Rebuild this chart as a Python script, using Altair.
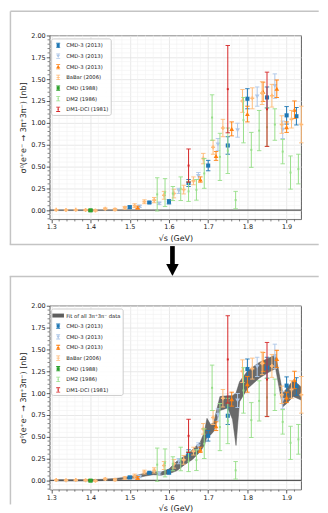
import altair as alt
import pandas as pd

FONT = "DejaVu Sans"

# ---------------- data ----------------
cmd3a_x = [1.50, 1.55, 1.60, 1.65, 1.70, 1.75, 1.80, 1.85, 1.90, 1.925]
cmd3a_y = [0.034, 0.087, 0.095, 0.31, 0.51, 0.74, 1.275, 1.29, 1.085, 1.075]
cmd3a_e = [0.012, 0.008, 0.025, 0.04, 0.06, 0.10, 0.115, 0.12, 0.10, 0.10]

cmd3b_x = [1.525, 1.575, 1.625, 1.675, 1.725, 1.775, 1.825, 1.870, 1.890]
cmd3b_y = [0.04, 0.075, 0.22, 0.39, 0.75, 0.915, 1.30, 1.42, 0.92]
cmd3b_e = [0.01, 0.012, 0.03, 0.04, 0.07, 0.08, 0.11, 0.14, 0.10]

cmd3c_x = [1.52, 1.68, 1.72, 1.76, 1.80, 1.84, 1.875, 1.90, 1.92]
cmd3c_y = [0.03, 0.35, 0.62, 0.93, 1.10, 1.355, 1.39, 0.95, 1.15]
cmd3c_e = [0.015, 0.03, 0.05, 0.08, 0.09, 0.11, 0.10, 0.06, 0.10]

babar_x = [1.3125, 1.3375, 1.3625, 1.3875, 1.4125, 1.4375, 1.4625, 1.4875, 1.5125,
           1.5375, 1.5625, 1.5875, 1.6125, 1.6375, 1.6625, 1.6875, 1.7125, 1.7375,
           1.7875, 1.8125, 1.8375, 1.8625, 1.8875, 1.9125, 1.9375]
babar_y = [0.003, 0.002, 0.003, 0.002, -0.004, 0.015, 0.008, 0.027, 0.05,
           0.095, 0.114, 0.17, 0.19, 0.235, 0.335, 0.59, 0.72, 0.94,
           1.25, 1.28, 1.34, 1.31, 0.98, 1.04, 0.98]
babar_e = [0.005, 0.005, 0.005, 0.006, 0.008, 0.01, 0.012, 0.015, 0.022,
           0.022, 0.03, 0.045, 0.05, 0.05, 0.045, 0.06, 0.08, 0.10,
           0.13, 0.12, 0.13, 0.13, 0.10, 0.10, 0.21]

cmd88_x = [1.40]
cmd88_y = [-0.003]
cmd88_e = [0.012]

dm2_x = [1.57, 1.59, 1.61, 1.63, 1.65, 1.67, 1.69, 1.71, 1.73, 1.75,
         1.77, 1.79, 1.81, 1.83, 1.85, 1.87, 1.89, 1.91, 1.93]
dm2_y = [0.18, 0.20, 0.19, 0.245, 0.215, 0.232, 0.42, 1.06, 0.61, 0.68,
         0.115, 1.03, 0.69, 0.91, 0.95, 0.98, 0.67, 0.43, 0.47]
dm2_e = [0.19, 0.16, 0.08, 0.135, 0.115, 0.118, 0.17, 0.26, 0.27, 0.26,
         0.10, 0.26, 0.20, 0.23, 0.22, 0.18, 0.14, 0.19, 0.17]

dm1_x = [1.65, 1.75, 1.85]
dm1_y = [0.51, 1.385, 1.155]
dm1_e = [0.19, 0.50, 0.425]

band_x = [1.31, 1.35, 1.40, 1.43, 1.46, 1.49, 1.52, 1.54, 1.56, 1.58, 1.60, 1.62,
          1.64, 1.66, 1.68, 1.69, 1.697, 1.706, 1.714, 1.73, 1.75, 1.762, 1.771,
          1.78, 1.80, 1.83, 1.855, 1.872, 1.89, 1.90, 1.917, 1.937]
band_lo = [-0.006, -0.006, -0.006, -0.002, 0.004, 0.015, 0.03, 0.05, 0.065, 0.06, 0.075, 0.11,
           0.18, 0.24, 0.33, 0.40, 0.50, 0.52, 0.56, 0.80, 0.83, 0.70, 0.40,
           0.90, 1.05, 1.17, 1.24, 1.28, 0.84, 0.88, 0.96, 0.92]
band_hi = [0.008, 0.008, 0.008, 0.012, 0.02, 0.035, 0.06, 0.085, 0.10, 0.095, 0.13, 0.22,
           0.28, 0.35, 0.44, 0.55, 0.71, 0.64, 0.66, 0.96, 0.97, 0.97, 1.00,
           1.13, 1.25, 1.35, 1.40, 1.44, 1.00, 1.05, 1.15, 1.07]

series_ids = ["a", "b", "c", "d", "e", "f", "g"]
series_names = ["CMD-3 (2013)", "CMD-3 (2013)", "CMD-3 (2013)", "BaBar (2006)",
                "CMD (1988)", "DM2 (1986)", "DM1-DCI (1981)"]
series_colors = ["#1f77b4", "#aec7e8", "#ff7f0e", "#ffbb78", "#2ca02c", "#98df8a", "#d62728"]
series_markers = ["square", "triangle-down", "triangle-up", "cross", "square", "square", "square"]
series_msize = [17, 22, 22, 16, 17, 4, 4]
series_glyph = ["square", "tdown", "tup", "cross", "square", "dot", "dot"]
series_x = [cmd3a_x, cmd3b_x, cmd3c_x, babar_x, cmd88_x, dm2_x, dm1_x]
series_y = [cmd3a_y, cmd3b_y, cmd3c_y, babar_y, cmd88_y, dm2_y, dm1_y]
series_e = [cmd3a_e, cmd3b_e, cmd3c_e, babar_e, cmd88_e, dm2_e, dm1_e]

fit_name = "Fit of all 3π⁺3π⁻ data"
fit_color = "#5e5e5e"

x_ticks = [1.3, 1.4, 1.5, 1.6, 1.7, 1.8, 1.9]
y_ticks = [0.0, 0.25, 0.5, 0.75, 1.0, 1.25, 1.5, 1.75, 2.0]
x_minor = [round(1.30 + 0.02 * i, 2) for i in range(32)]
x_minor = [v for v in x_minor if round(v * 10, 6) != round(v * 10)]
y_minor = [round(-0.10 + 0.05 * i, 2) for i in range(42)]
y_minor = [v for v in y_minor if abs(v * 4 - round(v * 4)) > 1e-6]

XDOM = [1.296, 1.937]
YDOM = [-0.105, 2.0]
W, H = 253, 185

xaxis = alt.Axis(values=x_ticks, format=".1f", title="√s (GeV)", titleY=19.5,
                 titleBaseline="middle", labelPadding=1.2)
yaxis = alt.Axis(values=y_ticks, format=".2f", title="σ⁰(e⁺e⁻ → 3π⁺3π⁻) [nb]",
                 titleX=-26.6, titleY=H / 2, titleBaseline="middle", labelPadding=1.1)


def X(field):
    return alt.X(f"{field}:Q", scale=alt.Scale(domain=XDOM, nice=False, zero=False), axis=xaxis)


def Y(field):
    return alt.Y(f"{field}:Q", scale=alt.Scale(domain=YDOM, nice=False, zero=False), axis=yaxis)


# legend glyph paths (errorbar + marker)
BAR = "M-0.08,-0.48H0.08V0.48H-0.08Z"
CAPS = "M-0.36,-0.48H0.36V-0.33H-0.36Z M-0.36,0.33H0.36V0.48H-0.36Z"
MARK = {
    "square": "M-0.28,-0.28H0.28V0.28H-0.28Z",
    "tdown": "M-0.34,-0.24H0.34L0,0.34Z",
    "tup": "M-0.34,0.24L0,-0.34L0.34,0.24Z",
    "cross": "M-0.3,-0.07H0.3V0.07H-0.3Z M-0.07,-0.3H0.07V0.3H-0.07Z",
    "dot": "M-0.12,-0.12H0.12V0.12H-0.12Z",
}
FIT_PATCH = "M-1.06,-0.36H1.06V0.36H-1.06Z"

one = pd.DataFrame({"k": [0]})
FRAME = "#c4c4c4"


def hline(x1, x2, y, color=FRAME, w=1.5):
    return alt.Chart(one).mark_rule(color=color, strokeWidth=w).encode(
        x=alt.value(x1), x2=alt.value(x2), y=alt.value(y))


def vline(x, y1, y2, color=FRAME, w=1.5):
    return alt.Chart(one).mark_rule(color=color, strokeWidth=w).encode(
        x=alt.value(x), y=alt.value(y1), y2=alt.value(y2))


def panel(with_fit, decorations):
    layers = []
    # minor grid
    layers.append(alt.Chart(pd.DataFrame({"x": x_minor})).mark_rule(
        color="#f1f1f1", strokeWidth=0.6).encode(x=X("x")))
    layers.append(alt.Chart(pd.DataFrame({"y": y_minor})).mark_rule(
        color="#f1f1f1", strokeWidth=0.6).encode(y=Y("y")))
    if with_fit:
        bdf = pd.DataFrame({"x": band_x, "lo": band_lo, "hi": band_hi})
        layers.append(alt.Chart(bdf).mark_area(
            color=fit_color, opacity=0.92, stroke="#4a4a4a", strokeWidth=0.5).encode(
            x=X("x"), y=Y("lo"), y2="hi:Q"))
    # zero line
    layers.append(alt.Chart(pd.DataFrame({"y": [0.0]})).mark_rule(
        color="#555555", strokeWidth=1.3).encode(y=Y("y")))
    # data series
    for i in range(len(series_ids)):
        df = pd.DataFrame({"x": series_x[i], "y": series_y[i], "e": series_e[i]})
        df["lo"] = df["y"] - df["e"]
        df["hi"] = df["y"] + df["e"]
        c = series_colors[i]
        base = alt.Chart(df)
        layers.append(base.mark_rule(color=c, strokeWidth=1.0).encode(
            x=X("x"), y=Y("lo"), y2="hi:Q"))
        layers.append(base.mark_tick(color=c, orient="horizontal", size=4.5, thickness=0.9,
                                     opacity=1).encode(x=X("x"), y=Y("lo")))
        layers.append(base.mark_tick(color=c, orient="horizontal", size=4.5, thickness=0.9,
                                     opacity=1).encode(x=X("x"), y=Y("hi")))
        layers.append(base.mark_point(shape=series_markers[i], filled=True, color=c,
                                      size=series_msize[i], opacity=1).encode(
            x=X("x"), y=Y("y")))
    # legend (invisible clipped points)
    ids = (["fit"] if with_fit else []) + series_ids
    names = ([fit_name] if with_fit else []) + series_names
    cols = ([fit_color] if with_fit else []) + series_colors
    paths = ([FIT_PATCH] if with_fit else []) + [
        BAR + " " + CAPS + " " + MARK[g] for g in series_glyph]
    expr = "''"
    for k, n in reversed(list(zip(ids, names))):
        expr = f"datum.value == '{k}' ? '{n}' : ({expr})"
    leg = alt.Legend(orient="none", legendX=1.4, legendY=2.8 if with_fit else 3.0,
                     title=None, labelExpr=expr, labelFont=FONT, labelFontSize=5.3,
                     labelColor="#222222", symbolSize=121, symbolStrokeWidth=0,
                     symbolOpacity=1, padding=1.6, rowPadding=1.7, labelOffset=2.5,
                     fillColor="rgba(255,255,255,0.85)", strokeColor="#cccccc",
                     cornerRadius=2)
    ldf = pd.DataFrame({"id": ids, "x": [1.5] * len(ids), "y": [-5.0] * len(ids)})
    layers.append(alt.Chart(ldf).mark_point(filled=True, opacity=1, clip=True, size=121).encode(
        x=X("x"), y=Y("y"),
        color=alt.Color("id:N", scale=alt.Scale(domain=ids, range=cols), legend=leg),
        shape=alt.Shape("id:N", scale=alt.Scale(domain=ids, range=paths), legend=leg)))
    # minor ticks
    layers.append(alt.Chart(pd.DataFrame({"x": x_minor})).mark_rule(
        color="#333333", strokeWidth=0.6).encode(x=X("x"), y=alt.value(H), y2=alt.value(H + 2.2)))
    layers.append(alt.Chart(pd.DataFrame({"y": y_minor})).mark_rule(
        color="#333333", strokeWidth=0.6).encode(y=Y("y"), x=alt.value(0), x2=alt.value(-2.2)))
    layers += decorations
    return alt.layer(*layers).properties(width=W, height=H)


PL = 48.3
top_deco = [
    vline(8.75 - PL, 8.75 - 33, 243.3 - 33),
    hline(8.75 - PL, 319 - PL, 8.75 - 33),
    hline(8 - PL, 319 - PL, 243.3 - 33),
    vline(171.8 - PL, 245 - 33, 263.5 - 33, color="black", w=4.7),
    alt.Chart(one).mark_point(shape="M-1,-0.95L1,-0.95L0,0.95Z", filled=True, color="black",
                              opacity=1, size=158.8).encode(
        x=alt.value(171.8 - PL), y=alt.value(269 - 33)),
]
bot_deco = [
    hline(8 - PL, 319 - PL, 275.5 - 305),
    vline(8.75 - PL, 275.5 - 305, 200),
]

top = panel(False, top_deco)
bottom = panel(True, bot_deco)

chart = alt.vconcat(top, bottom, spacing=87, bounds="flush").resolve_scale(
    x="independent", y="independent", color="independent", shape="independent"
).resolve_legend(color="independent", shape="independent").properties(
    padding=0, background="white"
).configure_view(stroke="#333333", strokeWidth=0.8).configure_axis(
    labelFont=FONT, labelFontSize=6.5, labelColor="#222222", tickColor="#333333",
    tickSize=3.5, tickWidth=0.8, domain=False, grid=True, gridColor="#e2e2e2",
    gridWidth=0.8, titleFont=FONT, titleFontSize=8, titleColor="#222222",
    titleFontWeight="normal"
)

chart.save("out.html", embed_options={"renderer": "svg", "actions": False})
